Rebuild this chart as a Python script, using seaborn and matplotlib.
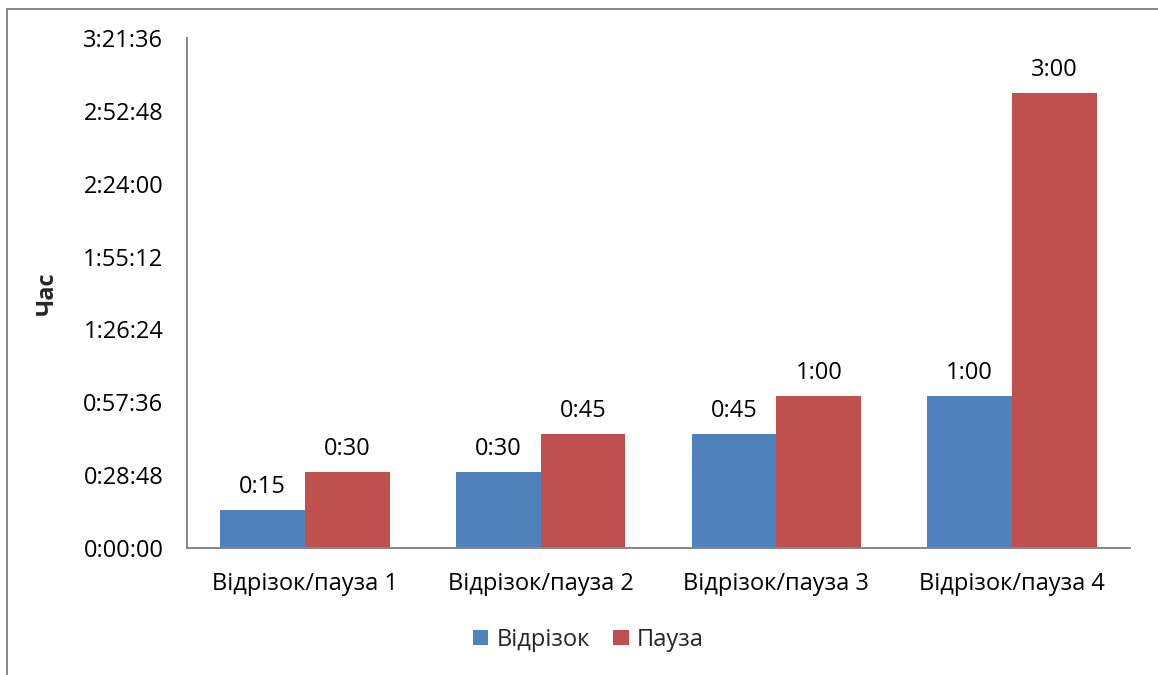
import matplotlib
matplotlib.use("Agg")
import matplotlib.pyplot as plt
from matplotlib.lines import Line2D
from matplotlib.patches import Patch
from matplotlib.ticker import FixedLocator, FuncFormatter
import seaborn as sns
import pandas as pd

# Data (durations in minutes)
categories = ["Відрізок/пауза 1", "Відрізок/пауза 2", "Відрізок/пауза 3", "Відрізок/пауза 4"]
series_names = ["Відрізок", "Пауза"]
segment_minutes = [15, 30, 45, 60]
pause_minutes = [30, 45, 60, 180]
ytick_minutes = [0, 28.8, 57.6, 86.4, 115.2, 144.0, 172.8, 201.6]

colors = ["#4F81BD", "#C0504D"]
axis_gray = "#868686"

df = pd.DataFrame({
    "category": categories * 2,
    "series": [series_names[0]] * len(categories) + [series_names[1]] * len(categories),
    "minutes": segment_minutes + pause_minutes,
})

sns.set_theme(style="white")
plt.rcParams["font.family"] = ["Open Sans", "DejaVu Sans"]
FS = 17

fig = plt.figure(figsize=(11.58, 6.75), dpi=100)
ax = fig.add_axes([0.1615, 0.1881, 0.9758 - 0.1615, 0.9437 - 0.1881])

sns.barplot(data=df, x="category", y="minutes", hue="series",
            hue_order=series_names, palette=colors, width=0.72,
            saturation=1, ax=ax, legend=False, errorbar=None, linewidth=0)


def hms(v, pos=None):
    total = int(round(v * 60))
    h, rem = divmod(total, 3600)
    m, s = divmod(rem, 60)
    return f"{h}:{m:02d}:{s:02d}"


def hm(v):
    total = int(round(v))
    h, m = divmod(total, 60)
    return f"{h}:{m:02d}"


for cont in ax.containers:
    ax.bar_label(cont, labels=[hm(b.get_height()) for b in cont],
                 padding=8, fontsize=FS, color="black")

ax.set_ylim(0, ytick_minutes[-1])
ax.set_xlim(-0.5, len(categories) - 0.5)
ax.yaxis.set_major_locator(FixedLocator(ytick_minutes))
ax.yaxis.set_major_formatter(FuncFormatter(hms))

ax.set_xlabel("")
ax.set_ylabel("Час", fontsize=FS, fontweight="bold", labelpad=18)

for side in ["top", "right"]:
    ax.spines[side].set_visible(False)
for side in ["left", "bottom"]:
    ax.spines[side].set_visible(True)
    ax.spines[side].set_color(axis_gray)
    ax.spines[side].set_linewidth(1.4)

ax.tick_params(axis="y", length=0, pad=17, labelsize=FS, labelcolor="black")
ax.tick_params(axis="x", length=0, pad=17, labelsize=FS, labelcolor="black")
ax.grid(False)

handles = [Patch(facecolor=c, edgecolor="none", label=n) for c, n in zip(colors, series_names)]
fig.legend(handles=handles, loc="center", bbox_to_anchor=(0.508, 0.052), ncol=2,
           frameon=False, fontsize=FS, handlelength=0.65, handleheight=0.65,
           handletextpad=0.35, columnspacing=1.0)

# outer chart frame (left and top edges)
fig.add_artist(Line2D([0.0058, 0.0058], [0, 0.987], color=axis_gray, linewidth=1.4,
                      transform=fig.transFigure))
fig.add_artist(Line2D([0.0058, 1.0], [0.987, 0.987], color=axis_gray, linewidth=1.4,
                      transform=fig.transFigure))

fig.savefig("out.png", dpi=100, facecolor="white")
